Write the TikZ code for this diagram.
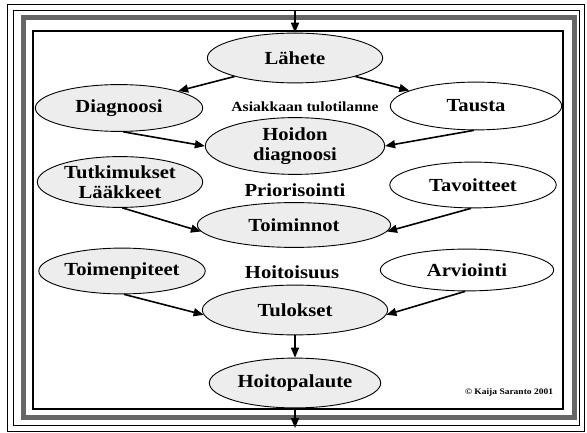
\documentclass[tikz,border=0pt]{standalone}
\usepackage{fontspec}
\setmainfont{Liberation Serif}[FakeStretch=1.12]
\usetikzlibrary{shapes.geometric, arrows.meta}

\begin{document}
\begin{tikzpicture}[
    x=1bp, y=-1bp,
    font=\bfseries\fontsize{18.5}{20}\selectfont,
    phase/.style={
        ellipse, draw=black, line width=0.9bp,
        fill=black!7,
        inner sep=0pt, align=center
    },
    goal/.style={
        phase, fill=white
    },
    phaselabel/.style={
        inner sep=0pt, align=center
    },
    arrow/.style={
        draw=black, line width=1.6bp,
        -{Triangle[length=10bp, width=8bp]}
    }
]
\useasboundingbox (0,0) rectangle (587,433);

% 1. FRAME: thin lines, dark band, white panel
\draw[line width=0.8bp] (7,4) rectangle (584,431);
\draw[line width=0.8bp] (13,10) rectangle (579,425);
\draw[line width=5bp, black!60] (23.5,17.5) rectangle (574,417);
\draw[line width=1.3bp, fill=white] (33,31) rectangle (563,409);

% 2. TOP SECTION: Lahete and arrival state
\node[phase, minimum width=176, minimum height=50] (Lahete) at (295,58) {Lähete};
\node[phase, minimum width=168, minimum height=47] (Diagnoosi) at (119,108) {Diagnoosi};
\node[goal, minimum width=172, minimum height=48] (Tausta) at (476,106) {Tausta};
\node[phaselabel, font=\bfseries\fontsize{14}{16}\selectfont] (Tulo) at (305,107) {Asiakkaan tulotilanne};

\node[phase, minimum width=180, minimum height=57] (Hoidon) at (295,146) {Hoidon\\diagnoosi};

% 3. CENTER SECTION: priorities and actions
\node[phase, minimum width=166, minimum height=51] (Tutkimukset) at (120,182) {Tutkimukset\\Lääkkeet};
\node[goal, minimum width=167, minimum height=46] (Tavoitteet) at (473,185) {Tavoitteet};
\node[phaselabel] (Prior) at (295,190) {Priorisointi};

\node[phase, minimum width=194, minimum height=45] (Toiminnot) at (294,225) {Toiminnot};

% 4. BOTTOM SECTION: results and feedback
\node[phase, minimum width=167, minimum height=46] (Toimenpiteet) at (122,271) {Toimenpiteet};
\node[goal, minimum width=174, minimum height=42] (Arviointi) at (467,270) {Arviointi};
\node[phaselabel] (Hoitoisuus) at (292,272) {Hoitoisuus};

\node[phase, minimum width=186, minimum height=50] (Tulokset) at (295,310) {Tulokset};
\node[phase, minimum width=172, minimum height=50] (Hoitopalaute) at (295,383) {Hoitopalaute};

\node[phaselabel, font=\bfseries\fontsize{8.5}{9}\selectfont] (Copy) at (509,392) {© Kaija Saranto 2001};

% Connectors
\coordinate (InTop) at (295,11);
\coordinate (OutBottom) at (295,428);
\draw[arrow] (InTop) -- (Lahete.north);
\draw[arrow] (Lahete.197) -- (Diagnoosi.16);
\draw[arrow] (Lahete.343) -- (Tausta.167);
\draw[arrow] (Diagnoosi.-80) -- (Hoidon.180);
\draw[arrow] (Tausta.-95) -- (Hoidon.0);
\draw[arrow] (Tutkimukset.-85) -- (Toiminnot.184);
\draw[arrow] (Tavoitteet.-95) -- (Toiminnot.-4);
\draw[arrow] (Toimenpiteet.-85) -- (Tulokset.183);
\draw[arrow] (Arviointi.-95) -- (Tulokset.-3);
\draw[arrow] (Tulokset.south) -- (Hoitopalaute.north);
\draw[arrow] (Hoitopalaute.south) -- (OutBottom);

\end{tikzpicture}
\end{document}
